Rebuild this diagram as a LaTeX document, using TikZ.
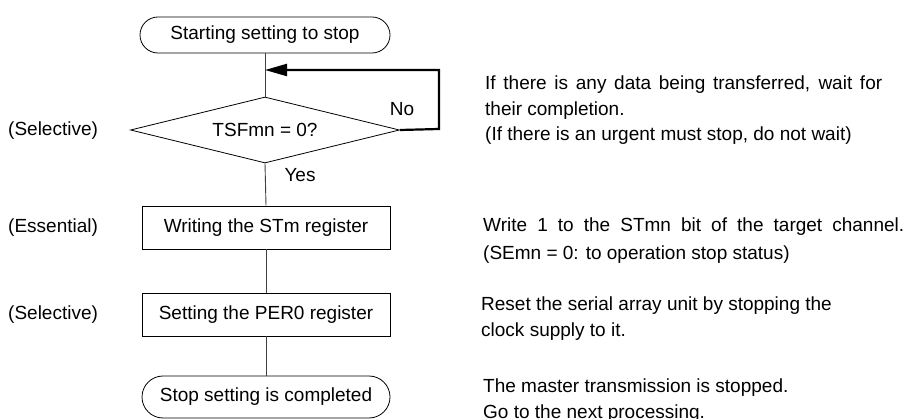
\documentclass[tikz,border=0pt]{standalone}
\usepackage{fontspec}
\setmainfont{Liberation Sans}
\usetikzlibrary{shapes.geometric,arrows.meta}
\begin{document}
\begin{tikzpicture}[x=1pt,y=-1pt,
  every node/.style={font=\fontsize{19}{23}\selectfont, inner sep=0pt},
  term/.style={draw=black, line width=0.8pt, rounded corners=18pt, minimum width=250pt, minimum height=36pt},
  procbox/.style={draw=black, line width=0.8pt, minimum width=248pt, minimum height=43pt},
  decide/.style={draw=black, line width=0.8pt, diamond, aspect=4.06, minimum width=269pt, minimum height=66pt},
  flow/.style={draw=black!75, line width=0.9pt},
  loopline/.style={draw=black, line width=2.2pt, -{Triangle[length=22pt,width=12pt]}},
  note/.style={anchor=base west},
  side/.style={anchor=west}
]
\useasboundingbox (0,0) rectangle (907,419);
\clip (0,0) rectangle (907,419);

% flowchart nodes
\node[term] (start) at (265,35) {Starting setting to stop};
\node[decide] (dec) at (265,130) {TSFmn = 0?};
\node[procbox] (st) at (266,227.5) {Writing the STm register};
\node[procbox] (per) at (266,314.5) {Setting the PER0 register};
\node[term, rounded corners=21pt, minimum width=248pt, minimum height=42pt] (fin) at (266,397) {Stop setting is completed};

% connectors
\coordinate (join) at (start.south |- 0,70);
\coordinate (loopR) at (439,129);
\draw[flow] (start.south) -- (dec.north);
\draw[flow] (dec.south) -- (st.north);
\draw[flow] (st.south) -- (per.north);
\draw[flow] (per.south) -- (fin.north);
\draw[loopline] (dec.east) -- (loopR) -- (loopR |- join) -- (join);

\node (no) at (402,109) {No};
\node (yes) at (300,175) {Yes};

% left labels
\node[side] (l1) at (8,131) {(Selective)};
\node[side] (l2) at (8,228) {(Essential)};
\node[side] (l3) at (8,315) {(Selective)};

% right notes
\node[note] (n1a) at (485,90) {\makebox[397pt][s]{If there is any data being transferred, wait for}};
\node[note] (n1b) at (485,116) {their completion.};
\node[note] (n1c) at (485,141) {(If there is an urgent must stop, do not wait)};
\node[note] (n2a) at (483,232) {\makebox[421pt][s]{Write 1 to the STmn bit of the target channel.}};
\node[note] (n2b) at (483,260) {(SEmn = 0: to operation stop status)};
\node[note] (n3a) at (481,311) {Reset the serial array unit by stopping the};
\node[note] (n3b) at (481,337) {clock supply to it.};
\node[note] (n4a) at (483,392) {The master transmission is stopped.};
\node[note] (n4b) at (483,418) {Go to the next processing.};
\end{tikzpicture}
\end{document}
